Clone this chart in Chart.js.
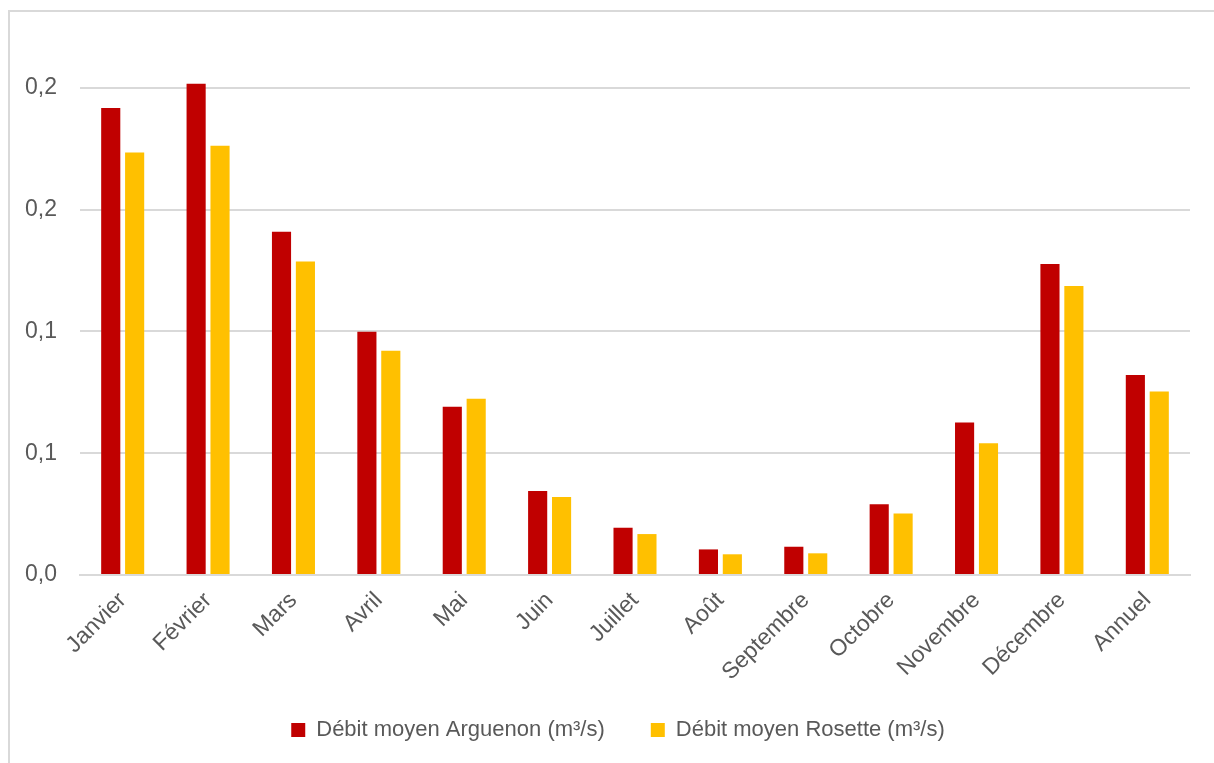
<!DOCTYPE html>
<html lang="fr">
<head>
<meta charset="utf-8">
<script src="https://cdn.jsdelivr.net/npm/chart.js@4/dist/chart.umd.min.js"></script>
<style>
  html, body { margin: 0; padding: 0; background: #fff; }
  #cadre {
    position: absolute; left: 8px; top: 10px; width: 1300px; height: 900px;
    border-left: 2px solid #d9d9d9; border-top: 2px solid #d9d9d9;
  }
  #wrap { position: absolute; left: 0; top: 0; width: 1214px; height: 763px; }
</style>
</head>
<body>
<div id="cadre"></div>
<div id="wrap"><canvas id="debits"></canvas></div>
<script>
// débits moyens mensuels (m³/s)
var mois = ['Janvier', 'Février', 'Mars', 'Avril', 'Mai', 'Juin', 'Juillet',
            'Août', 'Septembre', 'Octobre', 'Novembre', 'Décembre', 'Annuel'];
var debitArguenon = [0.1917, 0.2016, 0.1409, 0.0998, 0.0691, 0.0345, 0.0194,
                     0.0105, 0.0116, 0.0290, 0.0626, 0.1276, 0.0821];
var debitRosette  = [0.1734, 0.1762, 0.1287, 0.0920, 0.0723, 0.0320, 0.0168,
                     0.0085, 0.0089, 0.0252, 0.0541, 0.1186, 0.0753];
var graduations = ['0,0', '0,1', '0,1', '0,2', '0,2'];

var police = "'Liberation Sans', Arial, sans-serif";
var gris = '#595959';

// légende un peu décalée à droite, et les mois inclinés ne sont pas coupés
var ajustements = {
    id: 'ajustements',
    afterLayout: function(chart) {
        chart.legend.left += 23;
        chart.legend.right += 23;
        chart.scales.x.bottom = chart.height;
    }
};

new Chart(document.getElementById('debits'), {
    type: 'bar',
    data: {
        labels: mois,
        datasets: [
            { label: 'Débit moyen Arguenon (m³/s)', data: debitArguenon,
              backgroundColor: '#C00000', categoryPercentage: 0.56, barPercentage: 0.8 },
            { label: 'Débit moyen Rosette (m³/s)', data: debitRosette,
              backgroundColor: '#FFC000', categoryPercentage: 0.56, barPercentage: 0.8 }
        ]
    },
    plugins: [ajustements],
    options: {
        responsive: true, maintainAspectRatio: false, animation: false,
        layout: { padding: { left: 0, right: 24, top: 39, bottom: 12 } },
        plugins: {
            tooltip: { enabled: false },
            legend: {
                position: 'bottom',
                labels: {
                    boxWidth: 14, boxHeight: 14, padding: 46,
                    color: gris, font: { family: police, size: 22 }
                }
            }
        },
        scales: {
            x: {
                grid: { display: false },
                border: { display: true, color: '#d9d9d9', width: 2 },
                ticks: {
                    color: gris, font: { family: police, size: 23 },
                    minRotation: 45, maxRotation: 45, padding: 4
                },
                afterFit: function(s) { s.height = 98; }
            },
            y: {
                min: 0, max: 0.22,
                border: { display: false },
                grid: { color: '#d9d9d9', lineWidth: 2, drawTicks: false },
                ticks: {
                    stepSize: 0.05, padding: 23,
                    color: gris, font: { family: police, size: 23 },
                    callback: function(v) { return graduations[Math.round(v / 0.05)]; }
                },
                afterBuildTicks: function(s) {
                    s.ticks = s.ticks.filter(function(t) { return t.value <= 0.2001; });
                },
                afterFit: function(s) { s.width = 80; }
            }
        }
    }
});
</script>
</body>
</html>
